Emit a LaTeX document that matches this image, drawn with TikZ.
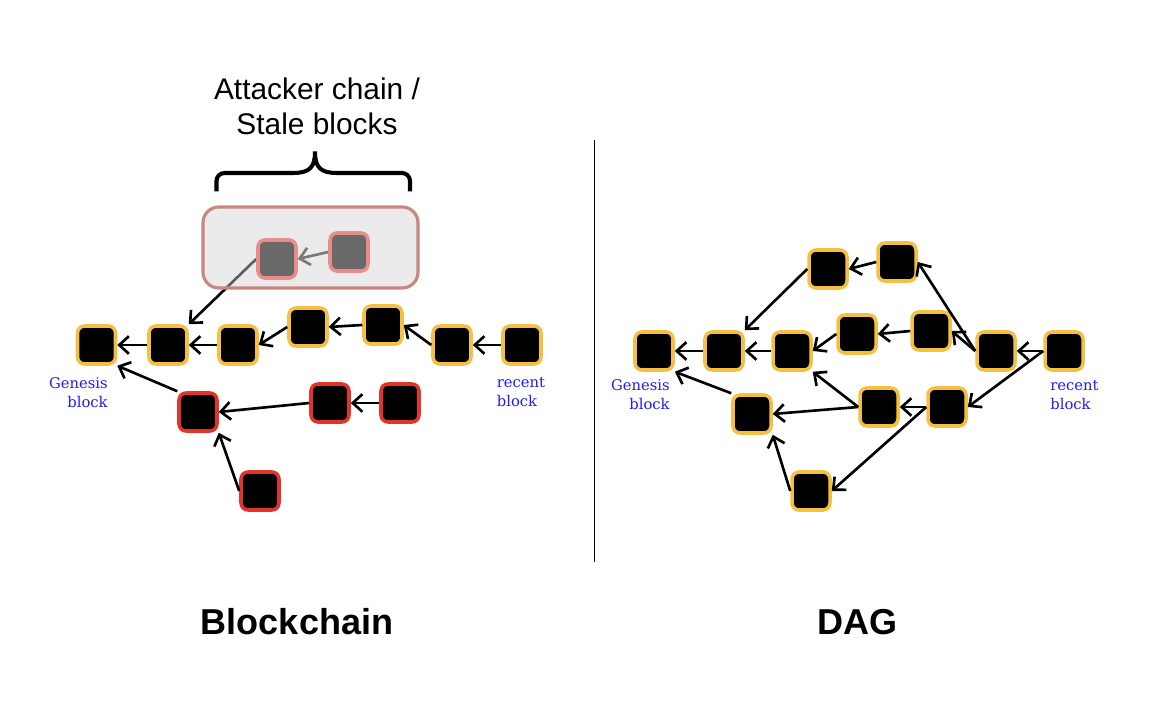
\documentclass[tikz,border=0pt]{standalone}
\usepackage{fontspec}
\setmainfont{Liberation Sans}
\newfontfamily\lblfont{DejaVu Serif}
\usetikzlibrary{arrows.meta, positioning, backgrounds}
\definecolor{blkgold}{RGB}{245, 192, 66}
\definecolor{blkred}{RGB}{228, 52, 42}
\definecolor{atkfill}{RGB}{105, 105, 105}
\definecolor{atkedge}{RGB}{232, 140, 140}
\definecolor{atkline}{RGB}{120, 120, 120}
\definecolor{boxfill}{RGB}{210, 210, 210}
\definecolor{boxedge}{RGB}{200, 135, 128}
\definecolor{lblblue}{RGB}{30, 30, 250}

\begin{document}
\begin{tikzpicture}[
  blk/.style={draw=blkgold, fill=black, line width=2pt, rounded corners=4pt,
    minimum size=0.76cm, inner sep=0pt},
  orphan/.style={blk, draw=blkred},
  atk/.style={blk, draw=atkedge, fill=atkfill},
  link/.style={-{Straight Barb[length=5.5pt,width=10pt]}, line width=1.5pt},
  lbl/.style={font=\lblfont\fontsize{8.4}{10.8}\selectfont, text=lblblue, inner sep=0pt}
]
  \useasboundingbox (0,0) rectangle (23,14.2);

  % LEFT: Blockchain
  \node[blk] (g)  at (1.93,7.30) {};
  \node[blk] (b2) at (3.36,7.30) {};
  \node[blk] (b3) at (4.76,7.30) {};
  \node[blk] (b4) at (6.16,7.66) {};
  \node[blk] (b5) at (7.66,7.70) {};
  \node[blk] (b6) at (9.04,7.30) {};
  \node[blk] (b7) at (10.44,7.30) {};

  % Orphaned branch
  \node[orphan] (r1) at (3.96,5.96) {};
  \node[orphan] (r2) at (6.60,6.14) {};
  \node[orphan] (r3) at (8.00,6.14) {};
  \node[orphan] (r4) at (5.20,4.38) {};

  % Attacker chain in its box
  \draw[boxedge, line width=1.8pt, fill=boxfill, fill opacity=0.45, rounded corners=9pt]
    (4.06,8.44) rectangle (8.36,10.06);
  \node[atk] (a1) at (5.54,9.02) {};
  \node[atk] (a2) at (6.98,9.16) {};

  \draw[link] (b2.west) -- (g.east);
  \draw[link] (b3.west) -- (b2.east);
  \draw[link] (b4.west) -- (b3.east);
  \draw[link] (b5.west) -- (b4.east);
  \draw[link] (b6.west) -- (b5.east);
  \draw[link] (b7.west) -- (b6.east);
  \draw[link] (r1.north west) -- (g.south east);
  \draw[link] (r2.west) -- (r1.east);
  \draw[link] (r3.west) -- (r2.east);
  \draw[link] (r4.west) -- (r1.south east);
  \draw[link, atkline] (a2.west) -- (a1.east);
  \begin{scope}[on background layer]
    \draw[link] (a1.west) -- (b2.north east);
  \end{scope}

  % Brace and its caption
  \draw[line width=2.3pt] (4.33,10.37) -- (4.33,10.58)
    arc[start angle=180, end angle=90, radius=0.16] -- (5.86,10.74)
    .. controls (6.2,10.74) and (6.30,10.86) .. (6.30,11.17)
    .. controls (6.30,10.86) and (6.40,10.74) .. (6.74,10.74)
    -- (8.04,10.74) arc[start angle=90, end angle=0, radius=0.16] -- (8.20,10.37);
  \node[font=\fontsize{17}{19.9}\selectfont, align=center] (atklbl) at (6.34,12.07)
    {Attacker chain /\\Stale blocks};

  \node[lbl, anchor=east, align=right] (glbl) at (2.16,6.35) {Genesis\\block};
  \node[lbl, anchor=west, align=left] (rlbl) at (9.93,6.35) {recent\\block};
  \node[font=\bfseries\fontsize{20.5}{24}\selectfont] (bctitle) at (5.94,1.76) {Blockchain};

  % Divider
  \draw[line width=1.1pt] (11.89,11.40) -- (11.89,2.96);

  % RIGHT: DAG
  \node[blk] (dg) at (13.08,7.18) {};
  \node[blk] (d2) at (14.48,7.18) {};
  \node[blk] (d3) at (15.84,7.18) {};
  \node[blk] (d4) at (17.14,7.52) {};
  \node[blk] (d5) at (18.62,7.58) {};
  \node[blk] (d6) at (19.92,7.18) {};
  \node[blk] (d7) at (21.28,7.18) {};
  \node[blk] (t1) at (16.56,8.82) {};
  \node[blk] (t2) at (17.94,8.96) {};
  \node[blk] (l1) at (15.04,5.92) {};
  \node[blk] (l2) at (17.58,6.06) {};
  \node[blk] (l3) at (18.94,6.06) {};
  \node[blk] (bot) at (16.22,4.38) {};

  \draw[link] (d2.west) -- (dg.east);
  \draw[link] (d3.west) -- (d2.east);
  \draw[link] (t1.west) -- (d2.north east);
  \draw[link] (t2.west) -- (t1.east);
  \draw[link] (d6.west) -- (t2.east);
  \draw[link] (d4.west) -- (d3.east);
  \draw[link] (d5.west) -- (d4.east);
  \draw[link] (d6.west) -- (d5.east);
  \draw[link] (d7.west) -- (d6.east);
  \draw[link] (d7.west) -- (l3.east);
  \draw[link] (l1.north west) -- (dg.south east);
  \draw[link] (l2.west) -- (l1.east);
  \draw[link] (l2.west) -- (d3.south east);
  \draw[link] (l3.west) -- (l2.east);
  \draw[link] (l3.west) -- (bot.east);
  \draw[link] (bot.west) -- (l1.south east);

  \node[lbl, anchor=east, align=right] (dglbl) at (13.40,6.30) {Genesis\\block};
  \node[lbl, anchor=west, align=left] (d7lbl) at (21.00,6.30) {recent\\block};
  \node[font=\bfseries\fontsize{20.5}{24}\selectfont] (dagtitle) at (17.15,1.76) {DAG};
\end{tikzpicture}
\end{document}
